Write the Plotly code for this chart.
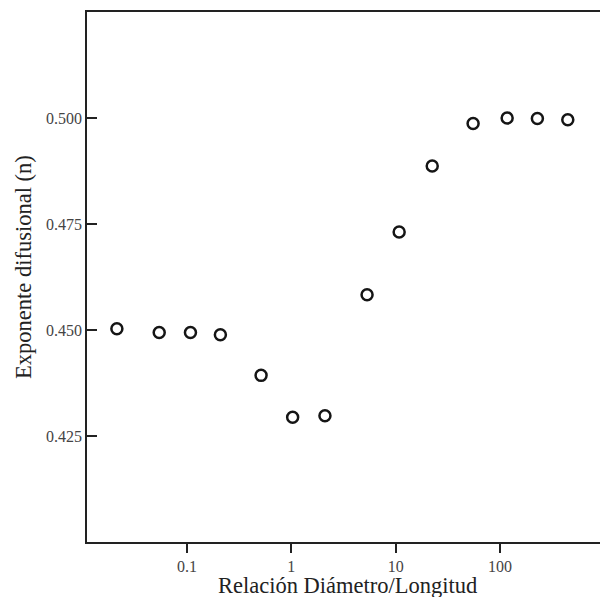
import plotly.graph_objects as go

# Data
ratio_dl = [0.0213, 0.0542, 0.108, 0.209, 0.513, 1.03, 2.10, 5.32, 10.8, 22.4, 55.2, 117, 228, 446]
exponent_n = [0.4503, 0.4494, 0.4494, 0.4489, 0.4393, 0.4294, 0.4298, 0.4583, 0.4731, 0.4887, 0.4987, 0.5000, 0.4999, 0.4996]

x_tickvals = [0.1, 1, 10, 100]
x_ticktext = ["0.1", "1", "10", "100"]
y_tickvals = [0.425, 0.450, 0.475, 0.500]
y_ticktext = ["0.425", "0.450", "0.475", "0.500"]

fig = go.Figure()
fig.add_trace(go.Scatter(
    x=ratio_dl, y=exponent_n, mode="markers",
    marker=dict(symbol="circle-open", size=11, color="#151515",
                line=dict(width=2.5, color="#151515")),
    showlegend=False,
))

font_family = "Liberation Serif"
fig.update_layout(
    width=600, height=597,
    margin=dict(l=87, r=0, t=12, b=55),
    paper_bgcolor="white", plot_bgcolor="white",
    font=dict(family=font_family, color="#222"),
    xaxis=dict(
        type="log", range=[-1.958, 2.958], automargin=False,
        tickvals=x_tickvals, ticktext=x_ticktext,
        ticks="outside", ticklen=9, tickwidth=2, tickcolor="#222",
        showline=True, linecolor="#222", linewidth=1.8, mirror=True,
        showgrid=False, zeroline=False,
        tickfont=dict(size=16, color="#444", family=font_family),
    ),
    yaxis=dict(
        range=[0.400, 0.525], automargin=False,
        tickvals=y_tickvals, ticktext=y_ticktext,
        ticks="inside", ticklen=10, tickwidth=2.2, tickcolor="#222",
        showline=True, linecolor="#222", linewidth=1.8, mirror=False,
        showgrid=False, zeroline=False,
        tickfont=dict(size=16, color="#444", family=font_family),
    ),
    annotations=[
        dict(
            text="Exponente difusional (n)", textangle=-90,
            xref="paper", yref="paper", x=-0.1228, y=0.519,
            xanchor="center", yanchor="middle", showarrow=False,
            font=dict(size=22.5, color="#222", family=font_family),
        ),
        dict(
            text="Relación Diámetro/Longitud",
            xref="paper", yref="paper", x=0.508, y=0,
            xanchor="center", yanchor="top", yshift=-29, showarrow=False,
            font=dict(size=22.5, color="#222", family=font_family),
        ),
    ],
)

fig.write_html("out.html")
